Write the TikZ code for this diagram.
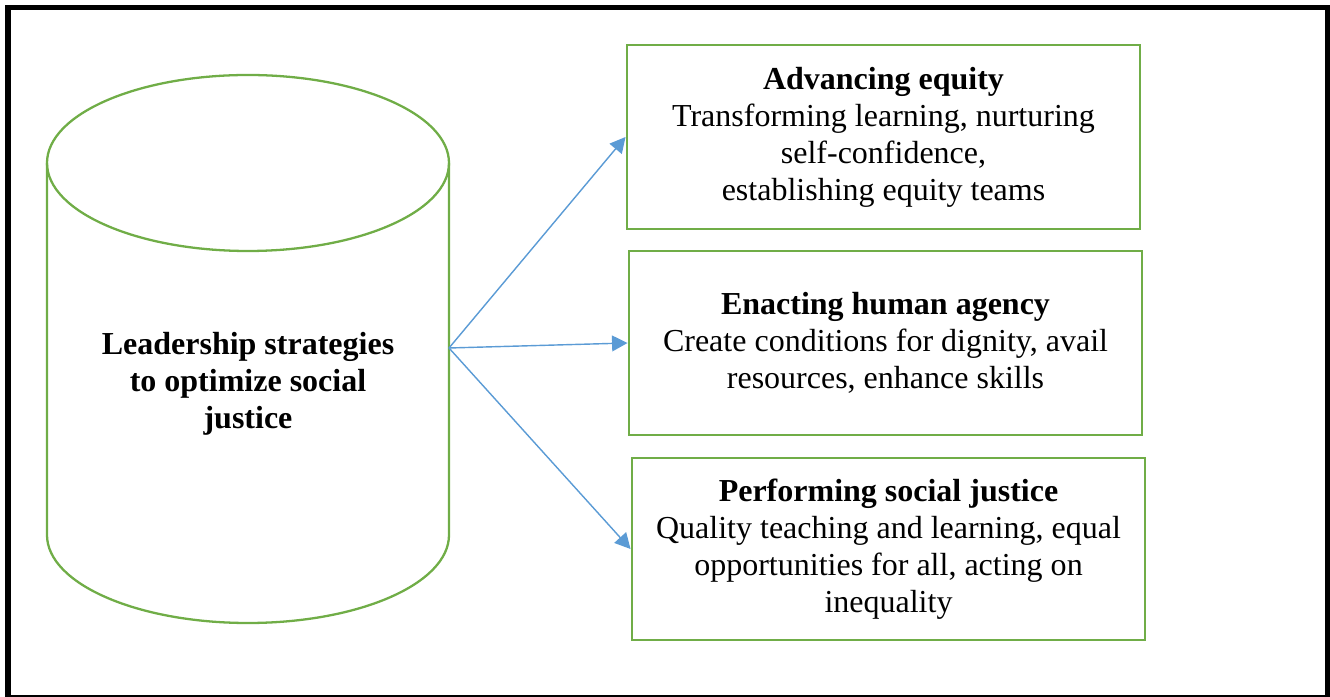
\documentclass[tikz,border=0pt]{standalone}
\usepackage{fontspec}
\setmainfont{Liberation Serif}
\usetikzlibrary{arrows.meta}

\definecolor{boxgreen}{RGB}{112,173,71}
\definecolor{arrowblue}{RGB}{91,155,213}

\begin{document}
\begin{tikzpicture}[x=0.01cm,y=0.01cm,>={Triangle[length=4.4pt,width=4.5pt]},
    font=\fontsize{9.1}{10.5}\selectfont,
    theme/.style={draw=boxgreen,line width=0.75pt,align=center,
        minimum width=5.13cm,minimum height=1.84cm,inner sep=0pt},
    link/.style={->,draw=arrowblue,fill=arrowblue,line width=0.4pt}]
    \useasboundingbox (0,0) rectangle (1330,697);

    % outer frame
    \draw[line width=1.5pt,line join=miter] (8,0) -- (8,689.3) -- (1327.5,689.3) -- (1327.5,0);
    \draw[line width=0.6pt] (8,1) -- (1327.5,1);

    % cylinder
    \draw[boxgreen,line width=0.65pt] (248,534) ellipse [x radius=201,y radius=88];
    \draw[boxgreen,line width=0.65pt] (47,534) -- (47,162)
        arc[start angle=180,end angle=360,x radius=201,y radius=88] -- (449,534);
    \node[align=center,font=\fontsize{9.1}{10.5}\selectfont\bfseries] (lead) at (248,313)
        {Leadership strategies\\to optimize social\\justice};
    \coordinate (hub) at (449,349);

    \node[theme] (equity) at (883.5,560) {\textbf{Advancing equity}\\Transforming learning, nurturing\\self-confidence,\\establishing equity teams};
    \node[theme] (agency) at (885.5,354) {\textbf{Enacting human agency}\\Create conditions for dignity, avail\\resources, enhance skills};
    \node[theme,minimum height=1.82cm] (justice) at (888.5,148) {\textbf{Performing social justice}\\Quality teaching and learning, equal\\opportunities for all, acting on\\inequality};

    \draw[link] (hub) -- (equity.west);
    \draw[link] (hub) -- (agency.west);
    \draw[link] (hub) -- (justice.west);
\end{tikzpicture}
\end{document}
